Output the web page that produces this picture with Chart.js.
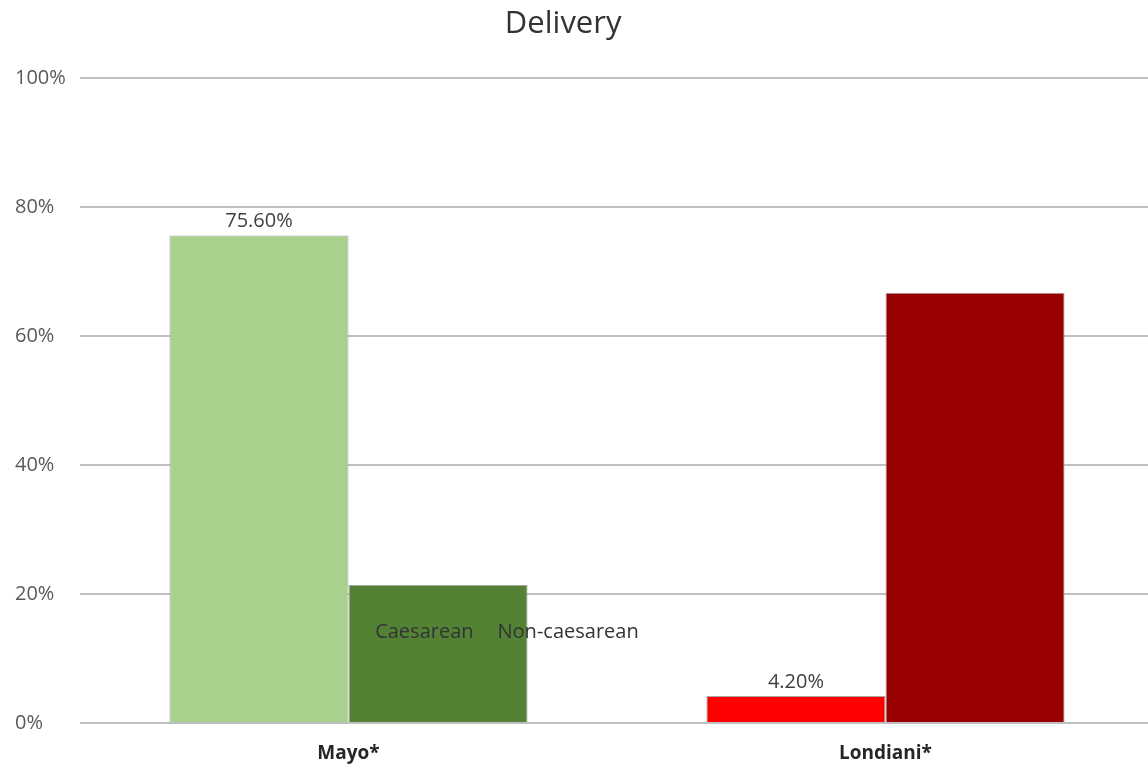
<!DOCTYPE html>
<html>
<head>
<meta charset="utf-8">
<script src="https://cdn.jsdelivr.net/npm/chart.js@4/dist/chart.umd.min.js"></script>
<style>
html,body{margin:0;padding:0;background:#fff;overflow:hidden;}
#wrap{width:1154px;height:771px;position:relative;}
</style>
</head>
<body>
<div id="wrap"><canvas id="c"></canvas></div>
<script>
const categories = ['Mayo*', 'Londiani*'];
const seriesNames = ['Caesarean', 'Non-caesarean'];
const caesarean = [75.6, 4.2];
const nonCaesarean = [21.4, 66.7];
const caesareanColors = ['#A9D18E', '#FF0000'];
const nonCaesareanColors = ['#548235', '#990000'];
const yTicks = [0, 20, 40, 60, 80, 100];
const titleText = 'Delivery';

const FONT = "'Open Sans', sans-serif";

const labelPlugin = {
  id: 'labels',
  afterDraw(chart) {
    const ctx = chart.ctx;
    ctx.save();
    // title (drawn slightly left of canvas centre, as in the reference)
    const tb = chart.titleBlock;
    ctx.font = "31px " + FONT;
    ctx.fillStyle = '#333333';
    ctx.textAlign = 'center';
    ctx.textBaseline = 'middle';
    ctx.fillText(titleText, chart.width * 0.488, tb.top + 6 + 31 * 1.2 / 2);
    // value labels on first series
    const meta = chart.getDatasetMeta(0);
    ctx.font = "20px " + FONT;
    ctx.fillStyle = '#404040';
    meta.data.forEach((bar, i) => {
      ctx.fillText(caesarean[i].toFixed(2) + '%', bar.x, bar.y - 14);
    });
    // in-plot series names
    const ca = chart.chartArea;
    const yPix = chart.scales.y.getPixelForValue(14.1);
    const gap = 24;
    const widths = seriesNames.map(s => ctx.measureText(s).width);
    const total = widths.reduce((a, b) => a + b, 0) + gap * (seriesNames.length - 1);
    let x = ca.left + (ca.right - ca.left) * 0.3975 - total / 2;
    ctx.textAlign = 'left';
    ctx.fillStyle = '#333333';
    seriesNames.forEach((s, i) => {
      ctx.fillText(s, x, yPix);
      x += widths[i] + gap;
    });
    ctx.restore();
  }
};

new Chart(document.getElementById('c'), {
  type: 'bar',
  data: {
    labels: categories,
    datasets: [
      { label: seriesNames[0], data: caesarean, backgroundColor: caesareanColors, borderColor: '#a6a6a6', borderWidth: 1 },
      { label: seriesNames[1], data: nonCaesarean, backgroundColor: nonCaesareanColors, borderColor: '#a6a6a6', borderWidth: 1 }
    ]
  },
  options: {
    responsive: true,
    maintainAspectRatio: false,
    animation: false,
    devicePixelRatio: 1,
    layout: { padding: { left: 15, right: 0, top: 0, bottom: 0 } },
    datasets: { bar: { categoryPercentage: 0.667, barPercentage: 1.0 } },
    plugins: {
      legend: { display: false },
      tooltip: { enabled: false },
      title: {
        display: true,
        text: titleText,
        color: 'rgba(0,0,0,0)',
        font: { family: FONT, size: 31, weight: 'normal' },
        padding: { top: 6, bottom: 34.8 }
      }
    },
    scales: {
      x: {
        grid: { display: false },
        border: { display: false },
        ticks: { color: '#262626', font: { family: FONT, size: 19, weight: 'bold' }, padding: 11 },
        afterFit(scale) { scale.height = 48; }
      },
      y: {
        min: 0, max: 100,
        afterBuildTicks(scale) { scale.ticks = yTicks.map(v => ({ value: v })); },
        grid: { color: '#bfbfbf', lineWidth: 2, drawTicks: false },
        border: { display: false },
        ticks: {
          color: '#595959',
          font: { family: FONT, size: 20 },
          crossAlign: 'far',
          padding: 12,
          callback: v => v + '%'
        },
        afterFit(scale) { scale.width = 65; }
      }
    }
  },
  plugins: [labelPlugin]
});
</script>
</body>
</html>
